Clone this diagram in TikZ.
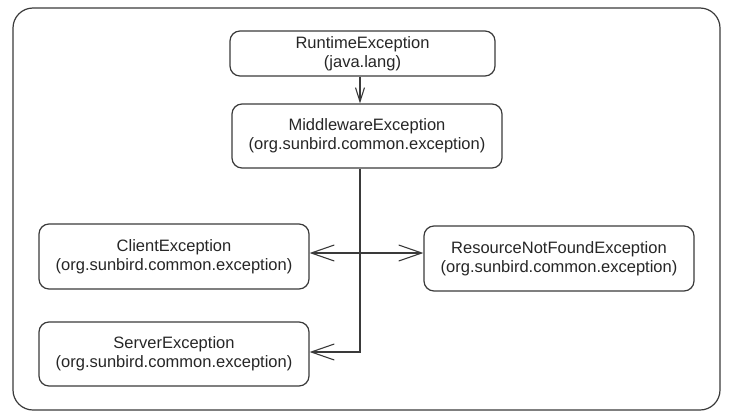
\documentclass[tikz,border=0pt]{standalone}
\usepackage{fontspec}
\setmainfont{Liberation Sans}
\usetikzlibrary{arrows.meta}
\definecolor{ln}{HTML}{3a3a3a}
\begin{document}
\begin{tikzpicture}[x=1pt,y=-1pt,
  cls/.style={draw=ln,line width=1.2pt,rounded corners=10pt,align=center,
    font=\fontsize{16.5}{19}\selectfont,inner sep=0pt,text=black!85},
  big/.style={-{Straight Barb[length=23pt,width=16pt,line width=1.1pt]}},
  small/.style={-{Straight Barb[length=14pt,width=9pt,line width=1.1pt]}},
  conn/.style={draw=ln,line width=1.1pt}]
\useasboundingbox (0,0) rectangle (729,418);
\draw[ln,line width=1.2pt,rounded corners=20pt] (13,8) rectangle (720,410);
\node[cls,minimum width=265pt,minimum height=45pt] (rt) at (362.5,53.5) {RuntimeException\\(java.lang)};
\node[cls,minimum width=270pt,minimum height=64pt] (mw) at (367,136) {MiddlewareException\\(org.sunbird.common.exception)};
\node[cls,minimum width=270pt,minimum height=65pt] (cl) at (174,256.5) {ClientException\\(org.sunbird.common.exception)};
\node[cls,minimum width=270pt,minimum height=65pt] (rs) at (559,258.5) {ResourceNotFoundException\\(org.sunbird.common.exception)};
\node[cls,minimum width=270pt,minimum height=64pt] (sv) at (174,354) {ServerException\\(org.sunbird.common.exception)};
\coordinate (j) at (360,253);
\coordinate (k) at (360,352);
\draw[conn,small] (j |- rt.south) -- (j |- mw.north);
\draw[conn,big] (j |- mw.south) -- (k) -- (sv.east |- k);
\draw[conn,big] (j) -- (cl.east |- j);
\draw[conn,big] (j) -- (rs.west |- j);
\end{tikzpicture}
\end{document}
